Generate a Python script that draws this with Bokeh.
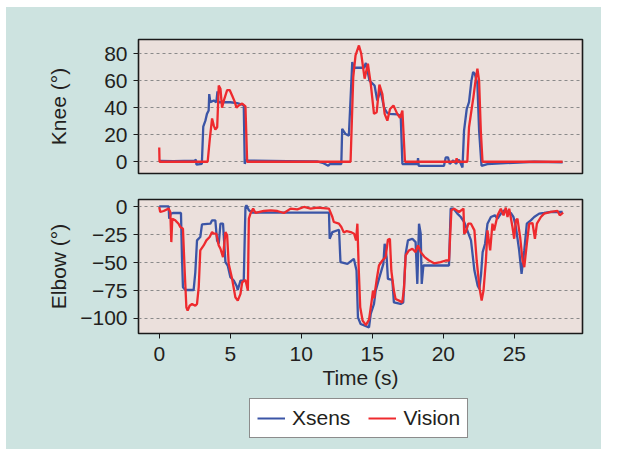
from bokeh.plotting import figure
from bokeh.layouts import column
from bokeh.models import Range1d, FixedTicker, Legend, LegendItem
from bokeh.embed import file_html
from bokeh.resources import INLINE

# ---------------- data ----------------
knee_xsens_t = [0, 1.0, 2.5, 2.58, 2.62, 3.0, 3.1, 3.25, 3.36, 3.48, 3.52, 3.6, 3.84, 4.02, 4.1, 4.16,
                5.0, 5.48, 5.84, 5.95, 6.02, 6.1, 6.5, 9.0, 11.1, 11.5, 11.9, 12.0, 12.82, 12.88, 13.12,
                13.35, 13.59, 13.7, 14.41, 14.55, 14.8, 15.0, 15.16, 15.35, 15.58, 15.82, 16.01, 16.17,
                16.76, 17.0, 17.12, 18.18, 18.22, 18.27, 20.05, 20.17, 20.33, 20.45, 20.7, 20.9, 21.1,
                21.35, 21.46, 21.65, 21.81, 21.98, 22.1, 22.22, 22.4, 22.52, 22.69, 23.1, 24.05, 26.4, 28.4]
knee_xsens = [0.7, 0.5, 0.8, 1.5, -2.2, -1.5, 26.0, 30.4, 35.4, 37.9, 50.0, 44.0, 45.3, 44.0, 52.0, 44.0,
              44.0, 43.3, 42.3, 41.6, -1.5, 0.8, 0.8, 0.5, 0.2, -0.8, -3.0, -1.8, -1.7, 24.3, 20.5,
              19.3, 73.8, 69.5, 69.5, 73.0, 60.0, 58.0, 56.4, 45.3, 52.7, 40.3, 36.6, 35.4,
              35.0, 34.0, -1.7, -1.7, 2.7, -3.0, -3.0, 3.2, 3.2, -1.7, 1.0, -1.5, 1.5,
              -4.2, 23.0, 39.0, 44.0, 60.0, 66.3, 65.0, 57.7, 23.0, -3.0, -1.7, -1.2, 0.0, -0.5]

knee_vision_t = [0, 0.02, 3.41, 3.55, 3.72, 3.84, 3.95, 4.08, 4.19, 4.31, 4.42, 4.54, 4.78, 4.96, 5.13,
                 5.29, 5.44, 5.6, 5.84, 6.07, 6.19, 13.47, 13.66, 13.82, 14.06, 14.22, 14.46, 14.69,
                 14.89, 15.12, 15.31, 15.5, 15.71, 15.87, 16.06, 16.25, 16.49, 16.76, 16.95, 17.12,
                 17.3, 20.88, 20.94, 21.0, 21.69, 21.81, 21.98, 22.12, 22.24, 22.4, 22.52, 22.64,
                 22.76, 28.4]
knee_vision = [10.6, 0, 0, 15.6, 32.0, 26.7, 23.8, 25.5, 56.4, 54.0, 40.0, 45.0, 53.0, 53.0, 49.0,
               45.0, 40.0, 41.6, 43.0, 41.0, 0, 0, 62.6, 78.7, 86.0, 80.0, 61.4, 72.5,
               57.7, 35.4, 36.6, 57.0, 50.0, 35.4, 30.4, 39.0, 41.6, 35.4, 32.4, 37.9,
               0, 0, 2.5, 0, 0, 25.5, 37.9, 47.8, 57.7, 68.8, 60.0, 23.0,
               0, 0]

elbow_xsens_t = [0, 0.66, 0.7, 0.82, 1.01, 1.53, 1.6, 1.67, 1.84, 2.42, 2.54, 2.66, 2.89, 3.01, 3.6,
                 3.72, 3.95, 4.07, 4.19, 4.31, 4.49, 4.66, 4.82, 5.01, 5.25, 5.44, 5.53, 5.72, 5.95,
                 6.07, 6.14, 6.31, 6.54, 11.95, 12.0, 12.19, 12.66, 12.76, 13.25, 13.7, 13.89, 13.99,
                 14.18, 14.77, 14.89, 15.12, 15.24, 15.47, 15.78, 15.87, 16.01, 16.1, 16.41, 16.52,
                 16.99, 17.18, 17.35, 17.51, 17.82, 18.05, 18.17, 18.29, 18.41, 18.48, 18.6, 20.4,
                 20.52, 20.71, 20.99, 21.23, 21.47, 21.95, 22.19, 22.42, 22.54, 22.66, 22.77, 22.94,
                 23.11, 23.35, 23.63, 23.82, 24.05, 24.29, 24.75, 24.94, 25.11, 25.34, 25.51, 25.7,
                 25.88, 26.16, 26.4, 26.75, 27.1, 27.57, 28.4]
elbow_xsens = [0.6, 0.6, -10.5, -6.0, -5.4, -5.4, -45.0, -72.0, -74.5, -74.5, -58.6, -30.0, -27.0, -15.6, -15.0,
               -12.0, -12.0, -30.0, -33.0, -15.0, -15.0, -49.5, -52.5, -63.0, -66.0, -70.6, -74.5, -66.0, -66.0,
               0.0, 1.5, -3.0, -5.0, -5.0, -28.5, -22.5, -20.4, -49.5, -51.0, -46.5, -57.0, -99.0,
               -105.0, -108.0, -96.0, -87.0, -75.0, -64.5, -51.0, -33.0, -45.0, -64.5, -65.5, -85.6,
               -87.0, -85.6, -42.0, -30.0, -28.5, -31.5, -69.0, -15.0, -24.0, -69.0, -52.5, -52.5,
               -1.5, -1.5, -6.0, -9.0, -13.5, -30.0, -57.0, -70.6, -73.6, -60.0, -40.5, -33.0,
               -15.0, -9.0, -7.5, -10.5, -6.0, -3.0, -5.4, -9.0, -18.0, -39.0, -60.0, -39.0,
               -15.0, -12.0, -9.0, -6.0, -5.4, -4.5, -4.5]

elbow_vision_t = [0, 0.07, 0.31, 0.66, 0.78, 0.85, 0.92, 1.13, 1.36, 1.48, 1.67, 1.79, 1.91, 2.0, 2.14,
                  2.31, 2.54, 2.66, 2.78, 2.89, 3.13, 3.32, 3.55, 3.72, 3.84, 4.02, 4.19, 4.31, 4.49,
                  4.66, 4.78, 4.89, 5.13, 5.36, 5.53, 5.72, 5.84, 6.07, 6.24, 6.31, 6.42, 6.61, 6.78,
                  7.36, 7.84, 8.31, 8.78, 9.25, 9.72, 10.19, 10.66, 11.13, 11.95, 12.19, 12.29, 12.65,
                  12.82, 13.0, 13.2, 13.48, 13.72, 13.86, 13.95, 14.05, 14.15, 14.32, 14.55, 14.77,
                  14.95, 15.05, 15.12, 15.3, 15.47, 15.71, 15.94, 16.1, 16.24, 16.34, 16.52, 16.64,
                  16.88, 17.11, 17.23, 17.35, 17.58, 17.82, 18.05, 18.22, 18.41, 18.69, 19.0, 19.35,
                  19.81, 20.17, 20.4, 20.57, 20.76, 21.11, 21.42, 21.47, 21.59, 21.76, 21.95, 22.19,
                  22.35, 22.54, 22.7, 22.83, 23.0, 23.11, 23.3, 23.46, 23.58, 23.82, 24.05, 24.24,
                  24.4, 24.52, 24.64, 24.87, 24.99, 25.11, 25.22, 25.41, 25.58, 25.7, 25.88, 26.05,
                  26.28, 26.45, 26.59, 26.87, 27.1, 27.57, 28.04, 28.2, 28.44]
elbow_vision = [0, -4.5, -3.6, -1.5, -4.5, -31.5, -10.5, -12.0, -15.0, -18.0, -19.5, -57.0, -90.0, -93.0, -88.6,
                -87.0, -88.6, -87.0, -72.0, -39.0, -34.5, -30.0, -27.0, -22.5, -24.0, -24.0, -34.5, -37.5, -45.0,
                -22.5, -25.5, -51.0, -64.5, -81.0, -84.0, -78.0, -67.5, -65.5, -75.0, -10.5, -6.0, -1.5, -5.4,
                -3.6, -3.0, -3.6, -5.4, -1.5, -2.1, 0.0, -1.5, -0.6, -1.5, -9.0, -13.5, -15.0,
                -18.0, -23.0, -21.6, -22.5, -24.0, -30.0, -15.0, -57.0, -90.0, -102.0, -106.0, -101.0,
                -85.0, -75.0, -82.0, -66.0, -52.5, -48.0, -45.0, -29.4, -28.5, -57.0, -75.0, -82.6,
                -84.0, -85.6, -73.6, -43.5, -39.0, -37.5, -40.5, -34.5, -40.5, -45.0, -48.0, -50.5,
                -49.5, -48.0, -48.0, -3.0, -1.5, -4.5, -1.5, -24.0, -22.5, -15.0, -15.0, -21.0,
                -48.0, -72.0, -84.0, -75.0, -48.0, -21.0, -39.0, -15.0, -21.0, -7.5, -1.5, -7.5,
                -0.6, -9.0, -1.5, -18.0, -28.5, -12.0, -10.5, -27.0, -48.0, -54.0, -33.0, -15.0,
                -14.4, -28.5, -15.0, -9.0, -6.0, -4.5, -3.6, -7.5, -5.1]

x_ticks = [0, 5, 10, 15, 20, 25]
knee_ticks = [0, 20, 40, 60, 80]
elbow_ticks = [0, -25, -50, -75, -100]
elbow_tick_labels = ["0", "\u221225", "\u221250", "\u221275", "\u2212100"]
series_names = ["Xsens", "Vision"]

# ---------------- style ----------------
TEAL = "#cde3e0"
PANEL = "#ebe0dc"
BLUE = "#3b55a6"
RED = "#ee2a2e"
TXT = "#231f20"
FONT = "Liberation Sans"
FS = "21px"
LW = 2.3
W = 595


def style(p):
    p.background_fill_color = PANEL
    p.border_fill_color = TEAL
    p.outline_line_color = "#1a1a1a"
    p.outline_line_width = 1.6
    p.xgrid.visible = False
    p.ygrid.grid_line_color = "#8a8a8a"
    p.ygrid.grid_line_dash = "3 3"
    p.ygrid.grid_line_width = 1
    for ax in p.axis:
        ax.axis_line_color = None
        ax.major_tick_line_color = "#1a1a1a"
        ax.major_tick_line_width = 1
        ax.major_tick_in = 0
        ax.major_tick_out = 5
        ax.minor_tick_line_color = None
        ax.major_label_text_font = FONT
        ax.major_label_text_font_size = FS
        ax.major_label_text_color = TXT
        ax.axis_label_text_font = FONT
        ax.axis_label_text_font_size = FS
        ax.axis_label_text_font_style = "normal"
        ax.axis_label_text_color = TXT
        ax.major_label_standoff = 6


xr = Range1d(-1.46, 29.8)

p1 = figure(width=W, height=178, x_range=xr, y_range=Range1d(-8.7, 90.4),
            output_backend="svg", toolbar_location=None,
            min_border_left=132, min_border_right=19, min_border_top=32, min_border_bottom=12)
style(p1)
p1.xaxis.visible = False
p1.yaxis.ticker = FixedTicker(ticks=knee_ticks)
p1.yaxis.axis_label = "Knee (\u00b0)"
p1.yaxis.axis_label_standoff = 31
p1.line(knee_xsens_t, knee_xsens, line_color=BLUE, line_width=LW)
p1.line(knee_vision_t, knee_vision, line_color=RED, line_width=LW)

p2 = figure(width=W, height=211, x_range=xr, y_range=Range1d(-113.5, 6.7),
            output_backend="svg", toolbar_location=None,
            min_border_left=132, min_border_right=19, min_border_top=14, min_border_bottom=63)
style(p2)
p2.xaxis.ticker = FixedTicker(ticks=x_ticks)
p2.xaxis.axis_label = "Time (s)"
p2.xaxis.major_label_standoff = 8
p2.xaxis.axis_label_standoff = 2
p2.yaxis.ticker = FixedTicker(ticks=elbow_ticks)
p2.yaxis.major_label_overrides = {t: s for t, s in zip(elbow_ticks, elbow_tick_labels)}
p2.yaxis.axis_label = "Elbow (\u00b0)"
p2.yaxis.axis_label_standoff = 7
p2.line(elbow_xsens_t, elbow_xsens, line_color=BLUE, line_width=LW)
p2.line(elbow_vision_t, elbow_vision, line_color=RED, line_width=LW)

# legend strip: same series drawn off-screen, used only for the legend glyphs
p3 = figure(width=W, height=53, x_range=xr, y_range=Range1d(500, 501),
            output_backend="svg", toolbar_location=None,
            min_border_left=132, min_border_right=19, min_border_top=0, min_border_bottom=0)
p3.axis.visible = False
p3.grid.visible = False
p3.outline_line_color = None
p3.background_fill_color = TEAL
p3.border_fill_color = TEAL
r_b = p3.line(elbow_xsens_t, elbow_xsens, line_color=BLUE, line_width=2)
r_r = p3.line(elbow_vision_t, elbow_vision, line_color=RED, line_width=2)
leg = Legend(items=[LegendItem(label=series_names[0], renderers=[r_b]),
                    LegendItem(label=series_names[1], renderers=[r_r])],
             orientation="horizontal", location=(111, 11),
             label_text_font=FONT, label_text_font_size=FS, label_text_color=TXT,
             glyph_width=28, glyph_height=20, label_height=20, label_standoff=7,
             spacing=18, padding=7, margin=0,
             border_line_color="#1a1a1a", border_line_width=1.5,
             background_fill_color="white", background_fill_alpha=1.0)
p3.add_layout(leg)

layout = column(p1, p2, p3, spacing=0)
layout.styles = {"background-color": TEAL, "margin-left": "6px", "margin-top": "7px"}
open("out.html", "w").write(file_html(layout, INLINE))
